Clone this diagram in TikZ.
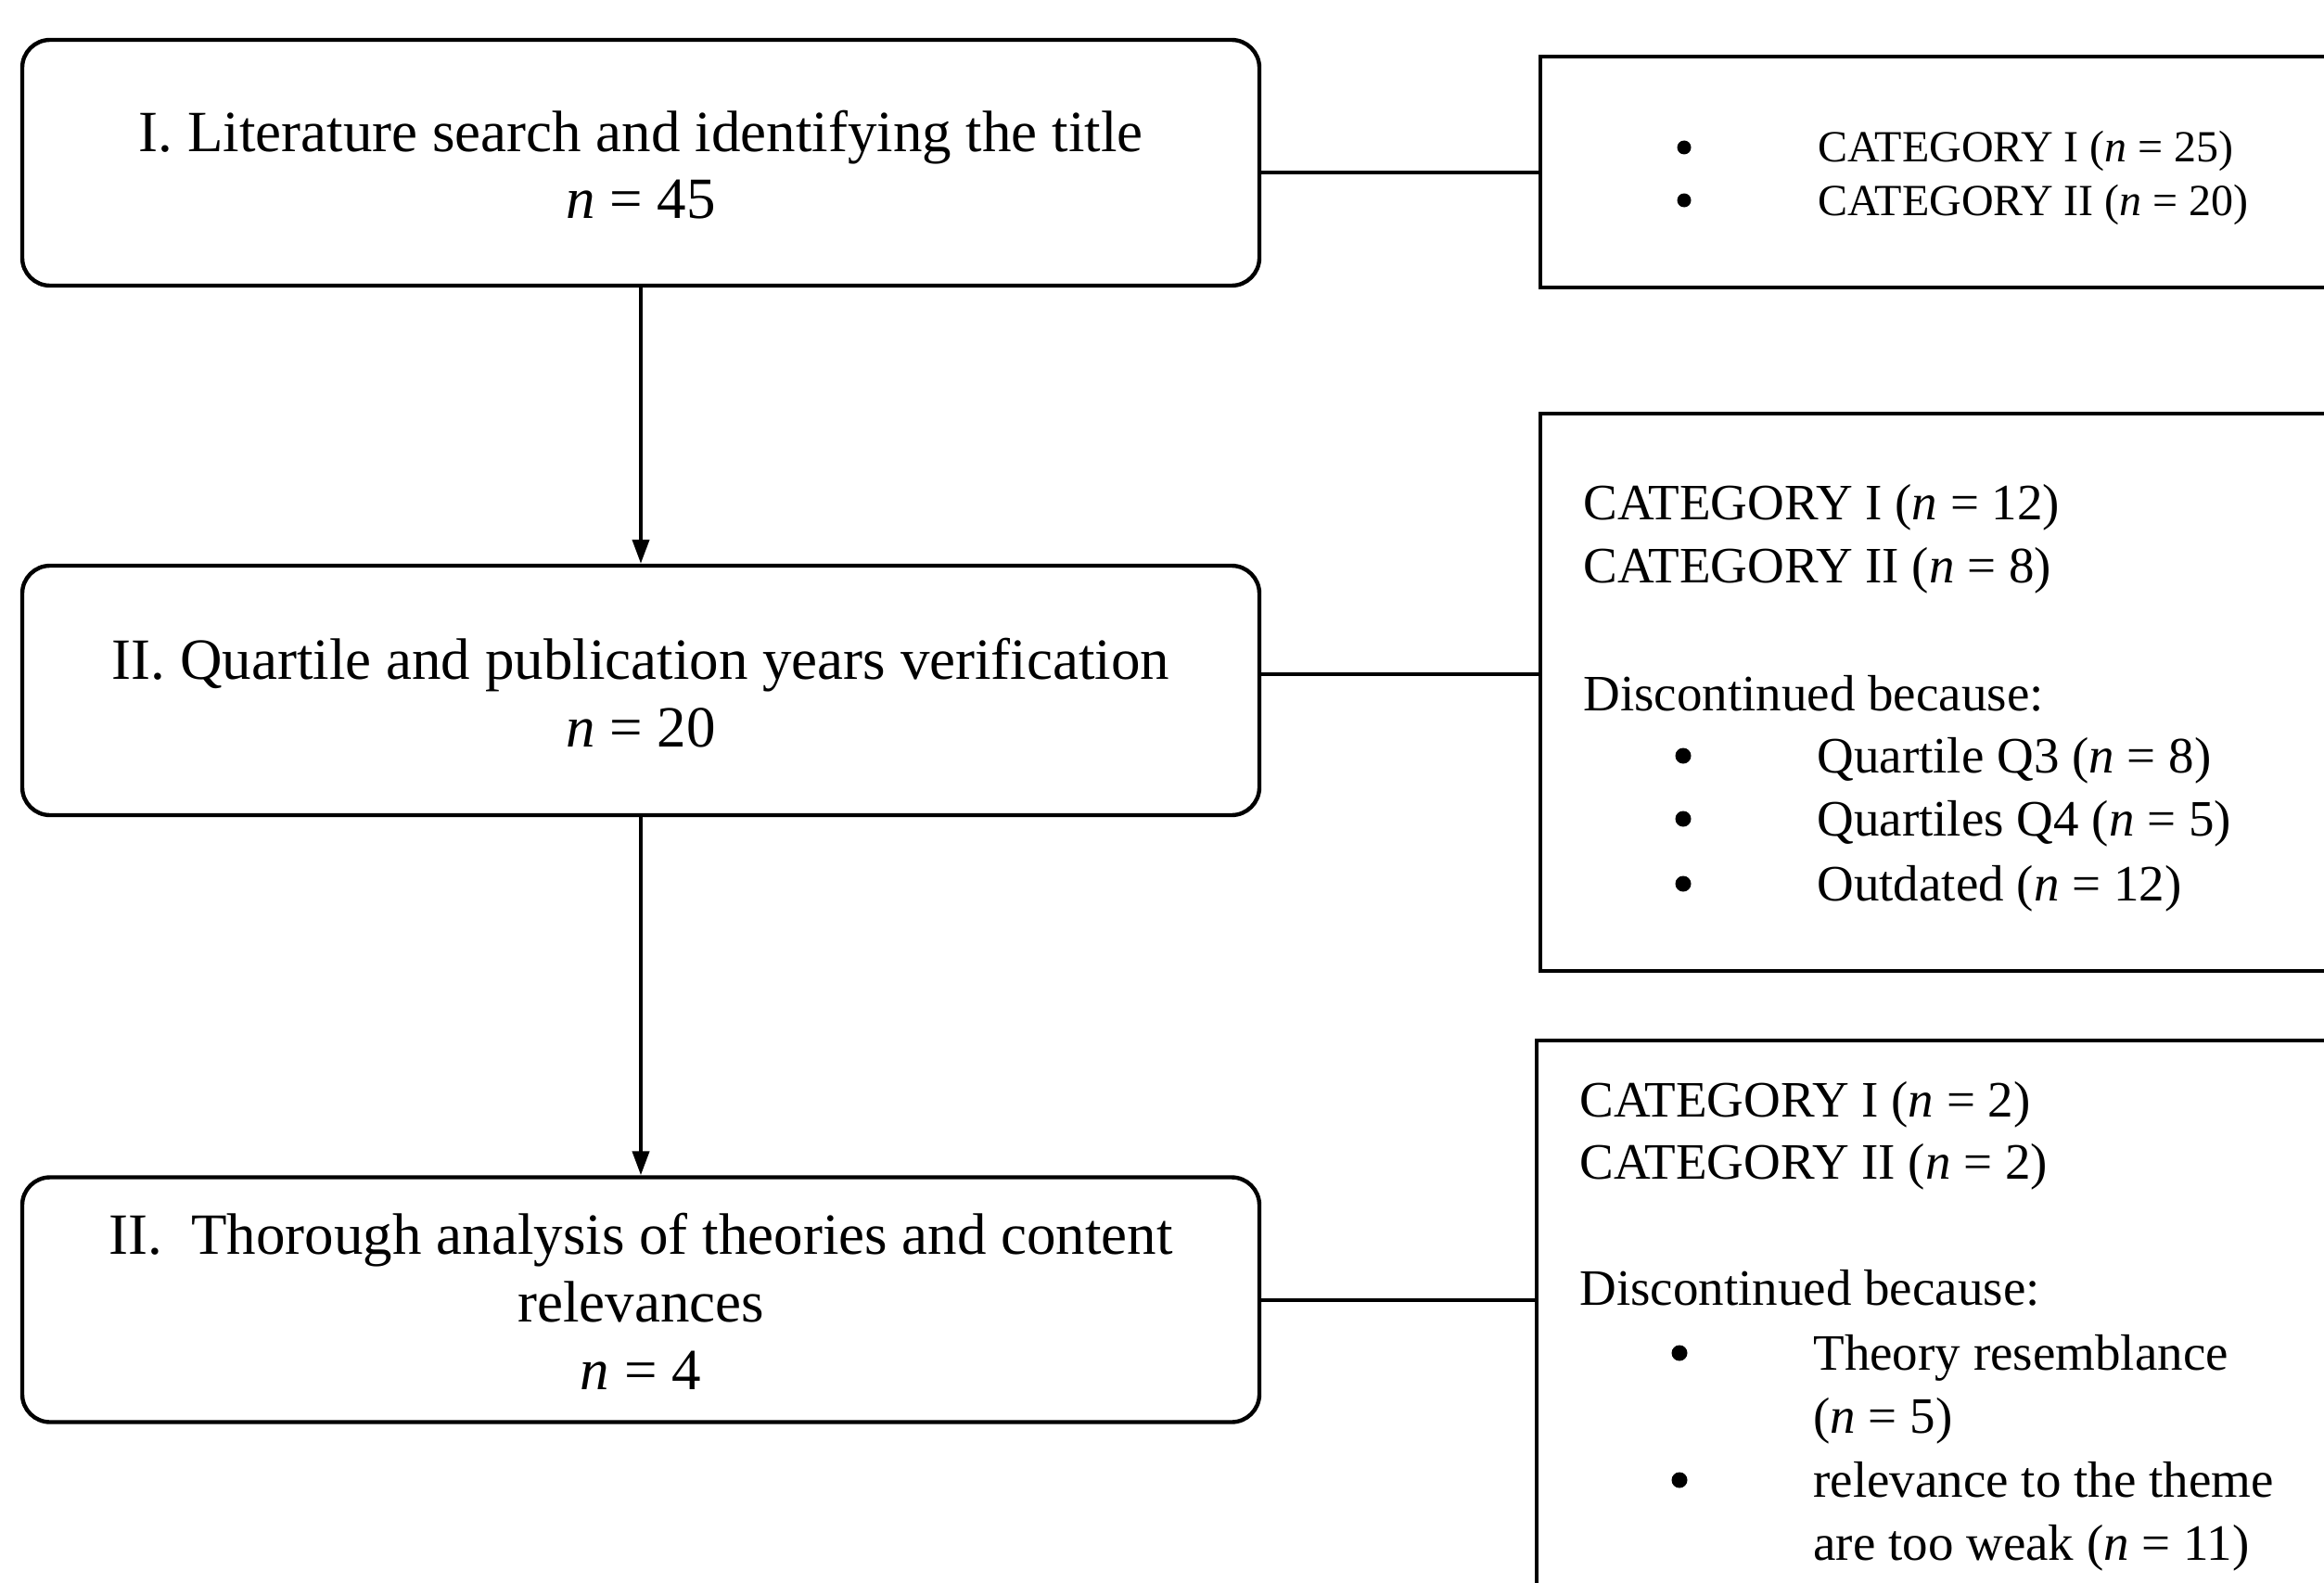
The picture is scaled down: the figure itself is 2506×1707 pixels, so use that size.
\documentclass[tikz,border=0pt]{standalone}
\usepackage{fontspec}
\setmainfont{Liberation Serif}
\usetikzlibrary{arrows.meta}
\begin{document}
\begin{tikzpicture}[x=0.5pt,y=-0.5pt,
 stage/.style={draw, line width=2.2pt, rounded corners=15pt, minimum width=667pt, inner sep=0},
 side/.style={draw, line width=2.2pt, minimum width=450pt, inner sep=0, anchor=north west},
 big/.style={font=\fontsize{31.5}{36}\selectfont, inner sep=0, anchor=base},
 mid/.style={font=\fontsize{27.5}{32}\selectfont, inner sep=0, anchor=base west},
 small/.style={font=\fontsize{24}{28}\selectfont, inner sep=0, anchor=base west},
 bul/.style={circle, fill, draw=none, inner sep=0, minimum size=8.5pt},
 buls/.style={circle, fill, draw=none, inner sep=0, minimum size=7.5pt},
 link/.style={line width=2pt},
 flow/.style={line width=2pt, -{Triangle[length=13pt,width=9pt]}}
]
\useasboundingbox (0,0) rectangle (2506,1707);

% main stages
\node[stage, minimum height=132.5pt] (b1) at (691,175.5) {};
\node[stage, minimum height=134.5pt] (b2) at (691,744.5) {};
\node[stage, minimum height=132pt] (b3) at (691,1401.5) {};

% side boxes
\node[side, minimum height=124.5pt] (r1) at (1659,59) {};
\node[side, minimum height=300.5pt] (r2) at (1659,444) {};
\node[side, minimum height=320pt] (r3) at (1655,1120) {};

% connectors
\draw[flow] (b1.south) -- (b2.north);
\draw[flow] (b2.south) -- (b3.north);
\draw[link] (b1.east |- r1.west) -- (r1.west);
\draw[link] (b2.east |- 0,727) -- (r2.west |- 0,727);
\draw[link] (b3.east) -- (b3.east -| r3.west);

% stage texts
\node[big] (t1a) at (691,163) {I. Literature search and identifying the title};
\node[big] (t1b) at (691,235) {\textit{n} = 45};
\node[big] (t2a) at (691,732) {II. Quartile and publication years verification};
\node[big] (t2b) at (691,805) {\textit{n} = 20};
\node[big] (t3a) at (691,1352) {II.\ \ Thorough analysis of theories and content};
\node[big] (t3b) at (691,1425) {relevances};
\node[big] (t3c) at (691,1498) {\textit{n} = 4};

% side box 1
\node[buls] (d1a) at (1816,159) {};
\node[small] (s1a) at (1960,175) {CATEGORY I (\textit{n} = 25)};
\node[buls] (d1b) at (1816,216) {};
\node[small] (s1b) at (1960,232) {CATEGORY II (\textit{n} = 20)};

% side box 2
\node[mid] (s2a) at (1707,560) {CATEGORY I (\textit{n} = 12)};
\node[mid] (s2b) at (1707,628) {CATEGORY II (\textit{n} = 8)};
\node[mid] (s2c) at (1707,766) {Discontinued because:};
\node[bul] (d2a) at (1815,815) {};
\node[mid] (s2d) at (1959,833) {Quartile Q3 (\textit{n} = 8)};
\node[bul] (d2b) at (1815,883) {};
\node[mid] (s2e) at (1959,901) {Quartiles Q4 (\textit{n} = 5)};
\node[bul] (d2c) at (1815,953) {};
\node[mid] (s2f) at (1959,971) {Outdated (\textit{n} = 12)};

% side box 3
\node[mid] (s3a) at (1703,1204) {CATEGORY I (\textit{n} = 2)};
\node[mid] (s3b) at (1703,1271) {CATEGORY II (\textit{n} = 2)};
\node[mid] (s3c) at (1703,1407) {Discontinued because:};
\node[bul] (d3a) at (1811,1459) {};
\node[mid] (s3d) at (1955,1477) {Theory resemblance};
\node[mid] (s3e) at (1955,1545) {(\textit{n} = 5)};
\node[bul] (d3b) at (1811,1596) {};
\node[mid] (s3f) at (1955,1614) {relevance to the theme};
\node[mid] (s3g) at (1955,1682) {are too weak (\textit{n} = 11)};
\end{tikzpicture}
\end{document}
